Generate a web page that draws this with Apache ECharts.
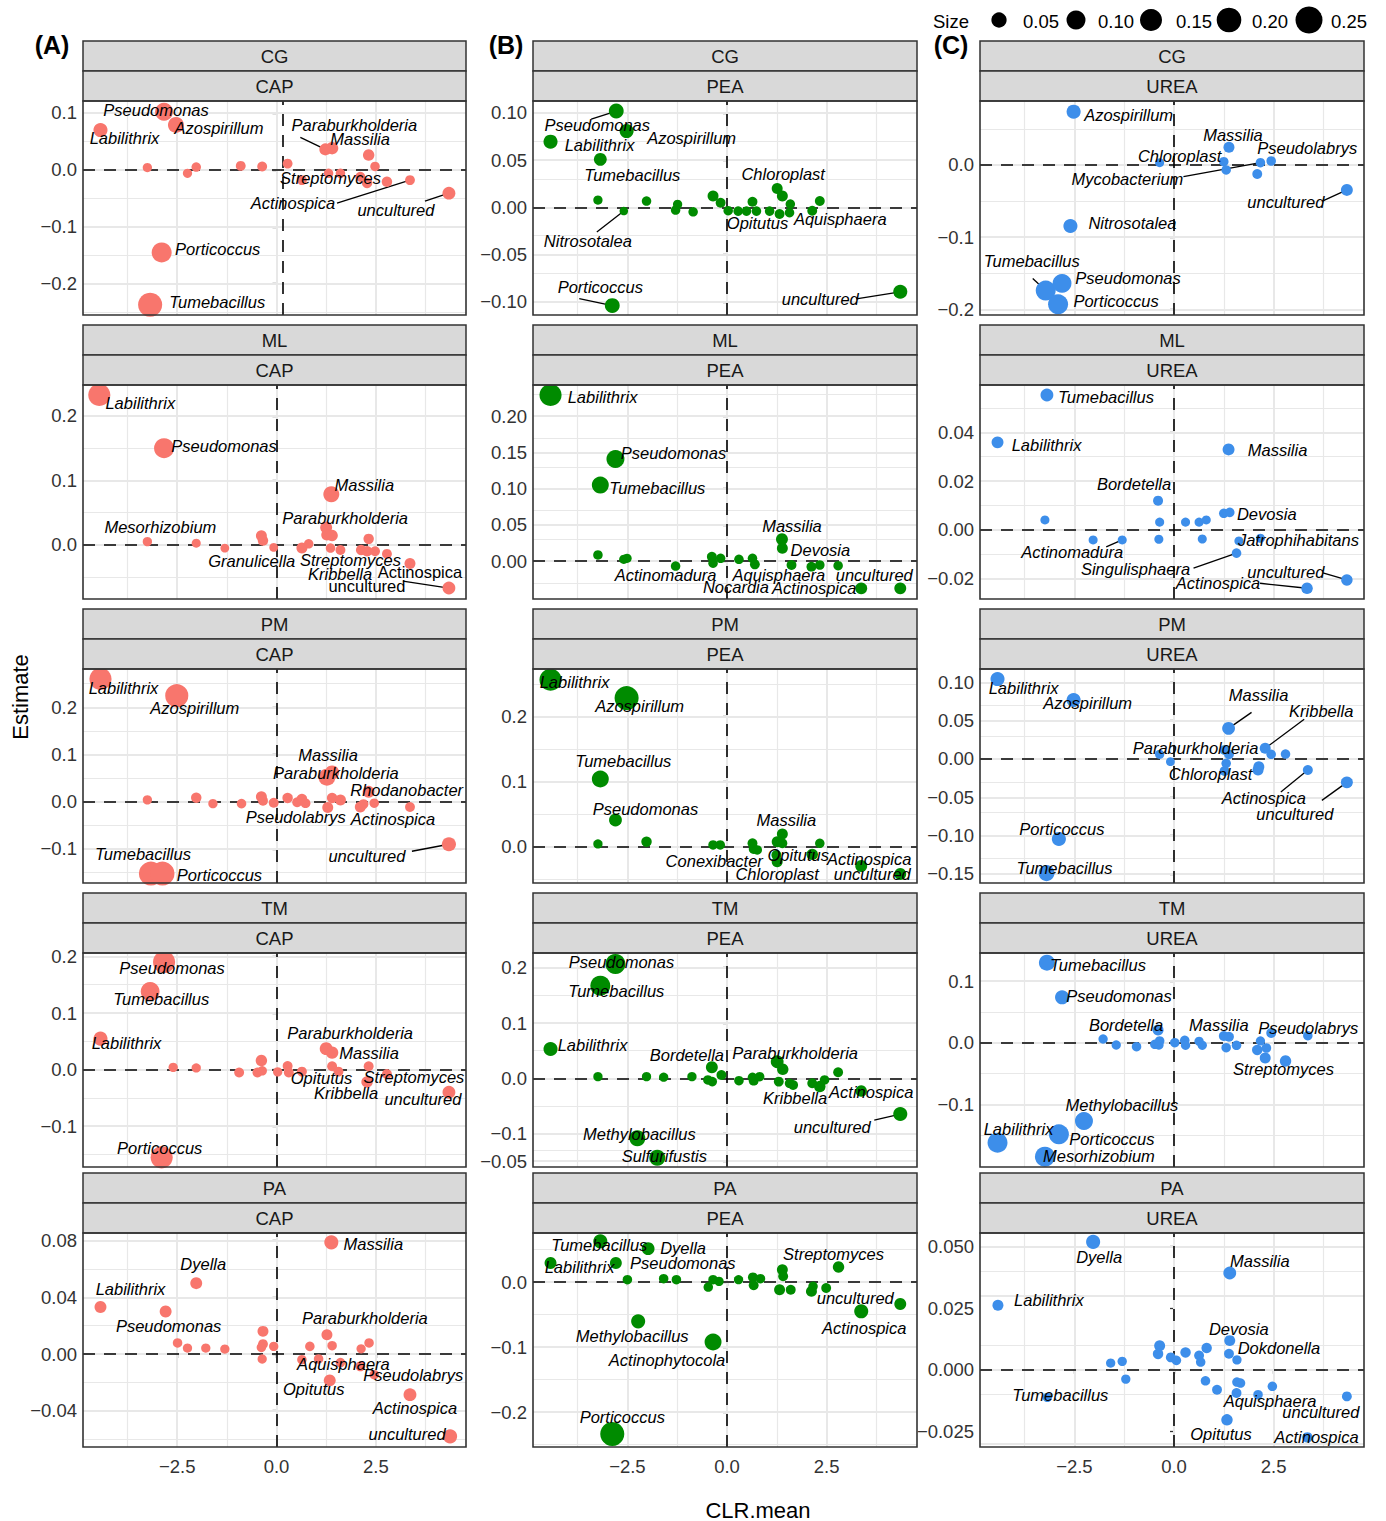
<!DOCTYPE html>
<html><head><meta charset="utf-8">
<script src="https://cdn.jsdelivr.net/npm/echarts@6/dist/echarts.min.js"></script>
<style>html,body{margin:0;padding:0;background:#fff;}#c{width:1386px;height:1521px;}</style>
</head><body><div id="c"></div>
<script>
// ---------------- DATA: [CLR.mean, Estimate, Size, label] ----------------
const capCG = [
 [-4.43,0.070,.06,'Labilithrix'],[-2.83,0.102,.116,'Pseudomonas'],[-2.53,0.079,.086,'Azospirillum'],
 [-2.89,-0.145,.15,'Porticoccus'],[-3.18,-0.237,.23,'Tumebacillus'],[-3.25,0.004,.01,''],[-2.24,-0.006,.01,''],
 [-2.02,0.005,.012,''],[-0.90,0.007,.015,''],[-0.36,0.006,.015,''],[0.28,0.011,.015,''],[0.64,-0.018,.015,''],
 [1.31,-0.006,.012,'Streptomyces'],[1.61,-0.006,.012,''],[2.11,-0.012,.015,''],[2.28,-0.023,.02,''],
 [2.32,0.026,.03,''],[2.48,0.006,.012,''],[2.78,-0.021,.02,''],[3.36,-0.018,.015,'Actinospica'],
 [1.23,0.036,.036,'Paraburkholderia'],[1.40,0.038,.04,'Massilia'],[4.34,-0.041,.045,'uncultured']];
const capML = [
 [-4.46,0.2326,.19,'Labilithrix'],[-2.83,0.150,.15,'Pseudomonas'],[1.38,0.0786,.086,'Massilia'],
 [-3.25,0.005,.01,'Mesorhizobium'],[-2.02,0.0026,.008,''],[-1.30,-0.005,.006,''],[-0.38,0.014,.025,''],
 [-0.34,0.0067,.02,''],[-0.07,-0.004,.006,'Granulicella'],[0.64,-0.005,.025,''],[0.81,0.0016,.012,''],
 [1.25,0.027,.035,'Paraburkholderia'],[1.27,0.0155,.03,''],[1.40,0.0145,.03,''],[1.36,-0.005,.012,''],
 [1.61,-0.008,.015,'Streptomyces'],[2.13,-0.008,.02,''],[2.32,0.0093,.02,''],[2.28,-0.010,.02,'Kribbella'],
 [2.48,-0.010,.015,''],[2.78,-0.014,.015,''],[3.36,-0.029,.025,'Actinospica'],[4.34,-0.067,.045,'uncultured']];
const capPM = [
 [-4.43,0.260,.19,'Labilithrix'],[-2.51,0.2246,.21,'Azospirillum'],[1.27,0.052,.1,'Paraburkholderia'],
 [1.40,0.062,.06,'Massilia'],[2.32,0.021,.035,'Rhodanobacter'],[-3.25,0.004,.01,''],[-2.02,0.0085,.02,''],
 [-1.60,-0.004,.01,''],[-0.88,-0.004,.012,''],[-0.38,0.0106,.025,''],[-0.34,0.002,.015,''],[-0.07,-0.002,.015,''],
 [0.28,0.008,.02,''],[0.52,-0.001,.015,''],[0.64,0.006,.02,''],[0.73,-0.003,.015,''],
 [1.29,-0.012,.025,'Pseudolabrys'],[1.40,0.008,.02,''],[1.61,0.0036,.025,''],[2.11,-0.011,.025,''],
 [2.19,-0.005,.015,''],[2.46,-0.003,.012,''],[3.36,-0.011,.015,'Actinospica'],[4.34,-0.090,.06,'uncultured'],
 [-3.16,-0.152,.23,'Tumebacillus'],[-2.87,-0.152,.23,'Porticoccus']];
const capTM = [
 [-2.83,0.190,.19,'Pseudomonas'],[-3.18,0.138,.13,'Tumebacillus'],[-4.43,0.0547,.06,'Labilithrix'],
 [-2.60,0.004,.01,''],[-2.02,0.003,.01,''],[-0.94,-0.005,.015,''],[-0.48,-0.005,.015,''],[-0.38,0.016,.03,''],
 [-0.36,-0.002,.012,''],[0.03,-0.004,.01,''],[0.28,0.0065,.015,''],[0.31,-0.005,.015,''],[0.64,-0.0035,.015,''],
 [1.25,0.037,.045,'Paraburkholderia'],[1.40,0.030,.04,'Massilia'],[1.40,0.006,.015,''],
 [1.56,-0.0035,.015,'Opitutus'],[2.32,0.006,.015,''],[2.28,-0.0217,.03,'Kribbella'],
 [2.78,-0.0076,.015,'Streptomyces'],[4.34,-0.040,.045,'uncultured'],[-2.89,-0.155,.19,'Porticoccus']];
const capPA = [
 [1.38,0.0788,.06,'Massilia'],[-2.02,0.050,.035,'Dyella'],[-4.43,0.0332,.035,'Labilithrix'],
 [-2.79,0.030,.035,'Pseudomonas'],[-2.49,0.0078,.012,''],[-2.24,0.0042,.01,''],[-1.78,0.0042,.01,''],
 [-1.30,0.0035,.01,''],[-0.34,0.016,.025,''],[-0.34,0.007,.015,''],[-0.38,0.0047,.012,''],[-0.07,0.0054,.01,''],
 [-0.36,-0.0035,.01,''],[0.84,0.0054,.012,''],[0.64,-0.004,.012,''],[1.27,0.0136,.025,'Paraburkholderia'],
 [1.40,0.0059,.012,''],[1.06,-0.0035,.012,''],[1.61,-0.006,.012,'Aquisphaera'],[1.34,-0.0186,.035,'Opitutus'],
 [2.13,0.0037,.01,''],[2.33,0.0078,.012,''],[2.11,-0.0087,.015,''],[2.46,-0.0146,.012,'Pseudolabrys'],
 [3.36,-0.0287,.045,'Actinospica'],[4.37,-0.0581,.06,'uncultured']];
const peaCG = [
 [-2.78,0.102,.07,'Pseudomonas'],[-2.52,0.0808,.06,'Azospirillum'],[-4.43,0.0695,.06,'Labilithrix'],
 [-3.18,0.0508,.045,'Tumebacillus'],[-3.24,0.0077,.01,''],[-2.59,-0.0039,.004,'Nitrosotalea'],
 [-2.02,0.0067,.012,''],[-1.29,-0.0029,.012,''],[-1.24,0.0032,.01,''],[-0.85,-0.0047,.012,''],
 [-0.35,0.012,.025,''],[-0.16,0.0049,.015,''],[0.03,-0.0036,.012,''],[0.28,-0.004,.012,''],
 [0.49,-0.004,.012,'Opitutus'],[0.64,0.0059,.015,''],[0.74,-0.004,.012,''],[1.07,-0.004,.012,''],
 [1.26,0.020,.025,'Chloroplast'],[1.39,0.012,.025,''],[1.32,-0.0071,.015,''],[1.59,0.0035,.012,''],
 [1.57,-0.0057,.012,''],[2.14,-0.0036,.015,'Aquisphaera'],[2.33,0.0067,.015,''],
 [4.35,-0.0894,.06,'uncultured'],[-2.88,-0.104,.07,'Porticoccus']];
const peaML = [
 [-4.43,0.229,.19,'Labilithrix'],[-2.80,0.1407,.116,'Pseudomonas'],[-3.18,0.1048,.1,'Tumebacillus'],
 [-3.24,0.0083,.012,''],[-2.59,0.0023,.01,''],[-2.51,0.0037,.01,''],[-1.29,-0.0069,.012,'Actinomadura'],
 [-0.38,0.006,.015,''],[-0.35,-0.003,.012,''],[-0.16,0.0037,.012,''],[0.30,0.0023,.012,'Nocardia'],
 [0.64,0.0037,.012,''],[0.70,-0.0046,.015,'Aquisphaera'],[1.38,0.030,.035,'Massilia'],
 [1.39,0.0175,.025,'Devosia'],[1.62,-0.0055,.015,''],[2.12,-0.0078,.015,''],[2.33,-0.0055,.012,''],
 [2.79,-0.0064,.012,''],[3.37,-0.0377,.035,'Actinospica'],[4.35,-0.0377,.035,'uncultured']];
const peaPM = [
 [-4.43,0.2565,.19,'Labilithrix'],[-2.52,0.2283,.23,'Azospirillum'],[-3.18,0.104,.1,'Tumebacillus'],
 [-2.80,0.041,.045,'Pseudomonas'],[-3.24,0.0042,.01,''],[-2.02,0.0077,.02,''],[-0.35,0.0026,.012,''],
 [-0.17,0.0026,.012,'Conexibacter'],[0.64,0.0052,.015,''],[0.67,-0.0035,.015,''],[0.76,-0.005,.012,''],
 [1.39,0.0195,.025,'Massilia'],[1.26,0.0077,.025,''],[1.39,0.0052,.015,''],[1.26,-0.023,.025,'Chloroplast'],
 [1.24,-0.0128,.015,''],[2.14,-0.0118,.03,'Opitutus'],[2.33,0.0052,.012,''],
 [3.37,-0.0297,.035,'Actinospica'],[4.35,-0.042,.035,'uncultured']];
const peaTM = [
 [-2.80,0.2067,.15,'Pseudomonas'],[-3.18,0.1675,.15,'Tumebacillus'],[-4.43,0.053,.06,'Labilithrix'],
 [-3.24,0.003,.01,''],[-2.02,0.003,.01,''],[-1.59,0.002,.01,''],[-0.88,0.003,.01,''],
 [-0.38,0.020,.035,'Bordetella'],[-0.48,-0.003,.012,''],[-0.37,-0.006,.012,''],[-0.14,0.006,.015,''],
 [0.30,-0.0043,.012,''],[0.64,0.0018,.012,''],[0.67,-0.0043,.015,''],[0.82,0.003,.012,''],
 [1.26,0.030,.045,'Paraburkholderia'],[1.40,0.0163,.03,''],[1.30,-0.006,.015,''],[1.57,-0.009,.012,''],
 [1.66,-0.012,.015,'Kribbella'],[2.14,-0.009,.015,''],[2.33,-0.015,.03,''],[2.45,-0.003,.012,''],
 [2.79,0.011,.015,''],[3.37,-0.023,.03,'Actinospica'],[4.35,-0.0646,.06,'uncultured'],
 [-2.25,-0.1085,.086,'Methylobacillus'],[-1.75,-0.1436,.086,'Sulfurifustis']];
const peaPA = [
 [-3.18,0.0626,.06,'Tumebacillus'],[-1.98,0.0513,.045,'Dyella'],[-4.43,0.0292,.035,'Labilithrix'],
 [-2.79,0.0292,.035,'Pseudomonas'],[-2.50,0.0036,.012,''],[-1.59,0.0051,.012,''],[-1.27,0.0036,.012,''],
 [-0.47,-0.0077,.012,''],[-0.35,0.0036,.012,''],[-0.20,0.001,.01,''],[0.29,0.0036,.01,''],
 [0.65,0.0072,.015,''],[0.67,-0.0051,.015,''],[0.84,0.0051,.012,''],[1.39,0.019,.025,''],
 [1.41,0.0088,.015,''],[1.32,-0.0118,.025,''],[1.60,-0.0118,.015,''],[2.12,-0.0144,.025,''],
 [2.16,-0.0067,.012,''],[2.49,-0.0092,.015,''],[2.80,0.0231,.03,'Streptomyces'],
 [3.37,-0.0451,.06,'Actinospica'],[4.35,-0.0338,.035,'uncultured'],[-2.23,-0.0605,.06,'Methylobacillus'],
 [-0.35,-0.0923,.1,'Actinophytocola'],[-2.88,-0.2338,.23,'Porticoccus']];
const ureaCG = [
 [-2.52,0.0738,.06,'Azospirillum'],[1.38,0.0245,.025,'Massilia'],[-0.36,0.0032,.008,'Chloroplast'],
 [1.25,0.0046,.012,''],[1.31,-0.0069,.012,''],[2.17,0.0032,.012,'Mycobacterium'],
 [2.44,0.0055,.012,'Pseudolabrys'],[2.09,-0.0125,.015,''],[4.34,-0.0346,.035,'uncultured'],
 [-2.60,-0.0845,.06,'Nitrosotalea'],[-3.22,-0.174,.15,'Tumebacillus'],[-2.81,-0.1639,.13,'Pseudomonas'],
 [-2.91,-0.193,.15,'Porticoccus']];
const ureaML = [
 [-3.19,0.0553,.045,'Tumebacillus'],[-4.43,0.0359,.035,'Labilithrix'],[1.37,0.033,.035,'Massilia'],
 [-0.40,0.012,.016,'Bordetella'],[-3.24,0.0041,.008,''],[-0.36,0.0032,.008,''],[0.29,0.0032,.008,''],
 [0.63,0.0032,.008,''],[0.81,0.0041,.008,''],[1.25,0.0068,.012,''],[1.40,0.0072,.012,'Devosia'],
 [-2.03,-0.0041,.008,''],[-1.30,-0.0041,.008,'Actinomadura'],[-0.38,-0.0038,.008,''],[0.71,-0.0037,.008,''],
 [1.63,-0.0045,.008,''],[2.17,-0.0034,.008,'Jatrophihabitans'],[1.57,-0.0095,.012,'Singulisphaera'],
 [3.34,-0.0239,.03,'Actinospica'],[4.34,-0.0205,.03,'uncultured']];
const ureaPM = [
 [-4.43,0.1044,.06,'Labilithrix'],[-2.52,0.077,.06,'Azospirillum'],[1.37,0.040,.045,'Massilia'],
 [2.29,0.014,.025,'Kribbella'],[-0.36,0.0061,.01,''],[-0.09,-0.0035,.006,''],
 [1.27,0.0117,.015,'Paraburkholderia'],[1.38,0.0061,.015,''],[1.31,-0.0056,.012,''],[2.44,0.0061,.012,''],
 [2.80,0.0065,.012,''],[1.27,-0.0157,.015,'Chloroplast'],[2.13,-0.010,.025,''],[2.11,-0.0144,.025,''],
 [3.36,-0.0144,.016,'Actinospica'],[4.34,-0.0305,.035,'uncultured'],[-2.89,-0.1044,.06,'Porticoccus'],
 [-3.20,-0.149,.086,'Tumebacillus']];
const ureaTM = [
 [-3.19,0.1297,.086,'Tumebacillus'],[-2.81,0.0736,.06,'Pseudomonas'],[-0.40,0.0206,.025,'Bordetella'],
 [-1.78,0.006,.01,''],[-1.45,-0.0037,.01,''],[-0.94,-0.0065,.012,''],[-0.48,-0.0026,.012,''],
 [-0.38,-0.0037,.012,''],[-0.36,0.0028,.012,''],[0.02,0.0,.012,''],[0.27,0.0039,.012,''],
 [0.29,-0.0042,.01,''],[0.63,0.0023,.01,''],[0.71,-0.0042,.01,''],[1.25,0.0109,.015,'Massilia'],
 [1.38,0.0097,.015,''],[1.31,-0.0081,.012,''],[1.57,-0.0042,.012,''],[2.17,0.0028,.01,''],
 [2.09,-0.0118,.02,''],[2.32,-0.0086,.012,''],[2.29,-0.0248,.025,''],[2.44,0.0157,.015,'Pseudolabrys'],
 [3.36,0.0113,.012,''],[2.80,-0.0297,.03,'Streptomyces'],[-2.26,-0.127,.116,'Methylobacillus'],
 [-2.89,-0.1485,.15,'Porticoccus'],[-4.43,-0.162,.15,'Labilithrix'],[-3.24,-0.1848,.15,'Mesorhizobium']];
const ureaPA = [
 [-2.03,0.0518,.06,'Dyella'],[1.40,0.0392,.045,'Massilia'],[-4.42,0.0261,.025,'Labilithrix'],
 [1.40,0.0118,.025,'Devosia'],[-0.36,0.0097,.025,''],[-0.40,0.0064,.02,''],[0.29,0.0070,.02,''],
 [0.82,0.0088,.02,''],[0.63,0.0058,.015,''],[0.67,0.0031,.012,''],[-0.08,0.005,.015,''],[0.06,0.0038,.012,''],
 [-1.59,0.0027,.01,''],[-1.30,0.0034,.01,''],[-1.21,-0.0038,.01,''],[1.38,0.0065,.015,''],
 [1.58,0.004,.01,'Dokdonella'],[0.79,-0.0045,.012,''],[1.08,-0.0081,.015,''],[1.58,-0.005,.012,''],
 [1.67,-0.0054,.012,''],[1.57,-0.0094,.015,''],[2.11,-0.0101,.012,'Aquisphaera'],[2.47,-0.0067,.012,''],
 [4.34,-0.0108,.015,'uncultured'],[-3.18,-0.0112,.01,'Tumebacillus'],[1.33,-0.0203,.03,'Opitutus'],
 [3.35,-0.0274,.02,'Actinospica']];

// ---------------- axes / facets ----------------
const sites = ['CG','ML','PM','TM','PA'];
const treatments = ['CAP','PEA','UREA'];
const panelTags = ['(A)','(B)','(C)'];
const xMajor = [-2.5, 0, 2.5];
const xMajorLabels = ['\u22122.5','0.0','2.5'];
const xMinor = [-3.75, -1.25, 1.25, 3.75];
const xRange = [-4.87, 4.77];
const yRange = {
 capCG:[-0.255,0.121], capML:[-0.084,0.248], capPM:[-0.172,0.281], capTM:[-0.172,0.206], capPA:[-0.0656,0.0854],
 peaCG:[-0.114,0.1126], peaML:[-0.0524,0.2428], peaPM:[-0.0558,0.273], peaTM:[-0.1604,0.2266], peaPA:[-0.2538,0.0754],
 ureaCG:[-0.2078,0.0886], ureaML:[-0.0283,0.0594], ureaPM:[-0.1619,0.1175], ureaTM:[-0.2015,0.1454], ureaPA:[-0.0313,0.0554]};
const yMajor = {
 capCG:[-0.2,-0.1,0,0.1], capML:[0,0.1,0.2], capPM:[-0.1,0,0.1,0.2], capTM:[-0.1,0,0.1,0.2], capPA:[-0.04,0,0.04,0.08],
 peaCG:[-0.1,-0.05,0,0.05,0.1], peaML:[0,0.05,0.1,0.15,0.2], peaPM:[0,0.1,0.2], peaTM:[-0.15,-0.1,0,0.1,0.2], peaPA:[-0.2,-0.1,0],
 ureaCG:[-0.2,-0.1,0], ureaML:[-0.02,0,0.02,0.04], ureaPM:[-0.15,-0.1,-0.05,0,0.05,0.1], ureaTM:[-0.1,0,0.1], ureaPA:[-0.025,0,0.025,0.05]};
const yLabels = {
 capCG:['\u22120.2','\u22120.1','0.0','0.1'], capML:['0.0','0.1','0.2'], capPM:['\u22120.1','0.0','0.1','0.2'],
 capTM:['\u22120.1','0.0','0.1','0.2'], capPA:['\u22120.04','0.00','0.04','0.08'],
 peaCG:['\u22120.10','\u22120.05','0.00','0.05','0.10'], peaML:['0.00','0.05','0.10','0.15','0.20'], peaPM:['0.0','0.1','0.2'],
 peaTM:['\u22120.05','\u22120.1','0.0','0.1','0.2'], peaPA:['\u22120.2','\u22120.1','0.0'],
 ureaCG:['\u22120.2','\u22120.1','0.0'], ureaML:['\u22120.02','0.00','0.02','0.04'],
 ureaPM:['\u22120.15','\u22120.10','\u22120.05','0.00','0.05','0.10'], ureaTM:['\u22120.1','0.0','0.1'],
 ureaPA:['\u22120.025','0.000','0.025','0.050']};
const yMinor = {
 capCG:[-0.25,-0.15,-0.05,0.05], capML:[-0.05,0.05,0.15], capPM:[-0.15,-0.05,0.05,0.15,0.25], capTM:[-0.15,-0.05,0.05,0.15],
 capPA:[-0.06,-0.02,0.02,0.06], peaCG:[-0.075,-0.025,0.025,0.075], peaML:[-0.025,0.025,0.075,0.125,0.175,0.225],
 peaPM:[-0.05,0.05,0.15,0.25], peaTM:[-0.125,-0.05,0.05,0.15], peaPA:[-0.25,-0.15,-0.05,0.05],
 ureaCG:[-0.15,-0.05,0.05], ureaML:[-0.01,0.01,0.03,0.05], ureaPM:[-0.125,-0.075,-0.025,0.025,0.075],
 ureaTM:[-0.15,-0.05,0.05], ureaPA:[-0.0125,0.0125,0.0375]};
const vlineX = {capCG:0.17};
const sizeLegend = [0.05,0.10,0.15,0.20,0.25];
const sizeLegendLabels = ['0.05','0.10','0.15','0.20','0.25'];

// ---------------- label placement (pixel offsets of text centre from point) ----------------
const labelPos = {
 capCG:{Labilithrix:[24,8],Pseudomonas:[-8,-2],Azospirillum:[43,3],Paraburkholderia:[29,-24],Massilia:[28,-9],Streptomyces:[2,5],Actinospica:[-117,23],uncultured:[-53,17],Porticoccus:[56,-3],Tumebacillus:[67,-3]},
 capML:{Labilithrix:[41,8],Pseudomonas:[60,-2],Massilia:[33,-9],Mesorhizobium:[13,-15],Paraburkholderia:[19,-9],Granulicella:[-22,14],Streptomyces:[10,10],Kribbella:[-27,23],Actinospica:[10,8],uncultured:[-82,-2]},
 capPM:{Labilithrix:[23,9],Azospirillum:[18,12],Massilia:[-4,-17],Paraburkholderia:[9,-4],Rhodanobacter:[38,-2],Pseudolabrys:[-32,10],Actinospica:[-17,12],uncultured:[-82,12],Tumebacillus:[-8,-20],Porticoccus:[57,1]},
 capTM:{Pseudomonas:[8,6],Tumebacillus:[11,8],Labilithrix:[26,4],Paraburkholderia:[24,-16],Massilia:[37,0],Opitutus:[-17,6],Kribbella:[-21,11],Streptomyces:[27,3],uncultured:[-26,7],Porticoccus:[-2,-9]},
 capPA:{Massilia:[42,2],Dyella:[7,-19],Labilithrix:[30,-18],Pseudomonas:[3,14],Paraburkholderia:[38,-17],Aquisphaera:[3,1],Opitutus:[-16,9],Pseudolabrys:[39,0],Actinospica:[5,13],uncultured:[-43,-2]},
 peaCG:{Pseudomonas:[-19,14],Labilithrix:[49,3],Azospirillum:[65,7],Tumebacillus:[32,16],Chloroplast:[6,-14],Nitrosotalea:[-36,30],Opitutus:[11,12],Aquisphaera:[28,8],Porticoccus:[-12,-19],uncultured:[-80,7]},
 peaML:{Labilithrix:[52,2],Pseudomonas:[58,-6],Tumebacillus:[57,3],Massilia:[10,-13],Devosia:[38,2],Actinomadura:[-10,9],Aquisphaera:[24,11],uncultured:[-26,-13],Nocardia:[-3,28],Actinospica:[-47,0]},
 peaPM:{Labilithrix:[24,2],Azospirillum:[13,8],Tumebacillus:[23,-18],Pseudomonas:[30,-11],Massilia:[4,-14],Conexibacter:[-6,16],Opitutus:[-14,1],Chloroplast:[0,12],Actinospica:[8,-7],uncultured:[-28,0]},
 peaTM:{Pseudomonas:[6,-2],Tumebacillus:[16,5],Labilithrix:[42,-4],Bordetella:[-25,-12],Paraburkholderia:[18,-9],Kribbella:[2,13],Actinospica:[10,1],uncultured:[-68,13],Methylobacillus:[2,-4],Sulfurifustis:[7,-2]},
 peaPA:{Tumebacillus:[-1,4],Dyella:[35,-1],Labilithrix:[29,4],Pseudomonas:[67,0],Streptomyces:[-5,-13],uncultured:[-45,-6],Actinospica:[3,17],Methylobacillus:[-6,15],Actinophytocola:[-46,18],Porticoccus:[10,-17]},
 ureaCG:{Azospirillum:[55,3],Massilia:[4,-12],Pseudolabrys:[36,-13],Chloroplast:[20,-7],Mycobacterium:[-133,16],uncultured:[-61,12],Nitrosotalea:[62,-3],Tumebacillus:[-14,-30],Pseudomonas:[66,-5],Porticoccus:[58,-3]},
 ureaML:{Tumebacillus:[59,2],Labilithrix:[49,3],Massilia:[49,1],Bordetella:[-24,-17],Devosia:[37,2],Jatrophihabitans:[38,2],Actinomadura:[-50,12],Singulisphaera:[-101,16],Actinospica:[-89,-5],uncultured:[-61,-8]},
 ureaPM:{Labilithrix:[26,9],Azospirillum:[14,3],Massilia:[30,-33],Kribbella:[56,-37],Paraburkholderia:[-29,-2],Chloroplast:[-14,3],Actinospica:[-44,28],uncultured:[-52,32],Porticoccus:[3,-10],Tumebacillus:[18,-5]},
 ureaTM:{Tumebacillus:[51,2],Pseudomonas:[57,-1],Bordetella:[-32,-5],Massilia:[-5,-11],Pseudolabrys:[37,-5],Streptomyces:[-2,8],Methylobacillus:[38,-16],Labilithrix:[21,-14],Porticoccus:[53,5],Mesorhizobium:[54,-1]},
 ureaPA:{Dyella:[6,15],Massilia:[30,-12],Labilithrix:[51,-5],Devosia:[9,-12],Dokdonella:[42,-12],Tumebacillus:[13,-2],Aquisphaera:[12,6],uncultured:[-26,16],Opitutus:[-6,14],Actinospica:[9,0]}
};
const leaders = {
 capCG:{Paraburkholderia:[-25,-12],Actinospica:[-73,23],uncultured:[-24,8]},
 capML:{uncultured:[-46,-7]},
 capPM:{uncultured:[-37,7]},
 peaCG:{Pseudomonas:[-25,8],Nitrosotalea:[-27,21],Porticoccus:[-33,-7],uncultured:[-44,7]},
 peaTM:{uncultured:[-26,6]},
 ureaCG:{Mycobacterium:[-77,14],uncultured:[-24,11],Tumebacillus:[-13,-12]},
 ureaML:{Actinomadura:[-16,7],Singulisphaera:[-43,15],Actinospica:[-47,-5],uncultured:[-24,-7]},
 ureaPM:{Massilia:[23,-16],Kribbella:[39,-29],Actinospica:[-27,22],uncultured:[-25,18]}
};
const uprightLabels = {capML:['Actinospica','uncultured']};

// ---------------- layout / style ----------------
const FONT = '"Liberation Sans", Arial, Helvetica, sans-serif';
const colLeft = [83, 533, 980], colWidth = [383, 384, 384];
const rowTop = [101, 385, 669, 953, 1233], plotH = 214, stripH = 30;
const colors = {CAP:'#F8766D', PEA:'#008B00', UREA:'#3D8EEA'};
function sz(v){ return 2*Math.sqrt(16 + 560*v); }

const panelData = {capCG,capML,capPM,capTM,capPA,peaCG,peaML,peaPM,peaTM,peaPA,ureaCG,ureaML,ureaPM,ureaTM,ureaPA};
const keys = Object.keys(panelData);

const grids=[], xAxes=[], yAxes=[], series=[];
keys.forEach((key,i)=>{
  const col = Math.floor(i/5), row = i%5, treat = treatments[col];
  const left = colLeft[col], top = rowTop[row], w = colWidth[col];
  const bottom = row===4;
  grids.push({left:left, top:top, width:w, height:plotH, containLabel:false, outerBoundsMode:'none'});
  xAxes.push({gridIndex:i, type:'value', min:xRange[0], max:xRange[1],
    axisLine:{show:false}, splitLine:{show:false},
    axisTick:{show:bottom, customValues:xMajor, length:4, lineStyle:{color:'#333', width:1.3}},
    axisLabel:{show:bottom, customValues:xMajor, margin:10, fontSize:18.5, color:'#333', fontFamily:FONT,
      formatter:(v)=>{const k=xMajor.findIndex(m=>Math.abs(m-v)<1e-9); return k>=0?xMajorLabels[k]:'';}}});
  const ym = yMajor[key], yl = yLabels[key];
  yAxes.push({gridIndex:i, type:'value', min:yRange[key][0], max:yRange[key][1],
    axisLine:{show:false}, splitLine:{show:false},
    axisTick:{show:true, customValues:ym, length:4, lineStyle:{color:'#333', width:1.3}},
    axisLabel:{show:true, customValues:ym, margin:6, fontSize:18.5, color:'#333', fontFamily:FONT,
      formatter:(v)=>{const k=ym.findIndex(m=>Math.abs(m-v)<1e-9); return k>=0?yl[k]:'';}}});
  // background grid lines
  const gl = [];
  xMinor.forEach(v=>gl.push({xAxis:v, lineStyle:{width:1.2}}));
  yMinor[key].forEach(v=>{ if(v>yRange[key][0] && v<yRange[key][1]) gl.push({yAxis:v, lineStyle:{width:1.2}}); });
  xMajor.forEach(v=>gl.push({xAxis:v, lineStyle:{width:2}}));
  ym.forEach(v=>gl.push({yAxis:v, lineStyle:{width:2}}));
  series.push({type:'scatter', xAxisIndex:i, yAxisIndex:i, data:[], z:1, silent:true,
    markLine:{silent:true, z:1, symbol:['none','none'], label:{show:false}, emphasis:{disabled:true}, animation:false,
      lineStyle:{color:'#E8E8E8', type:'solid'}, data:gl}});
  // reference lines
  series.push({type:'scatter', xAxisIndex:i, yAxisIndex:i, data:[], z:3, silent:true,
    markLine:{silent:true, z:3, symbol:['none','none'], label:{show:false}, emphasis:{disabled:true}, animation:false,
      lineStyle:{color:'#000', type:[12,9], width:1.6},
      data:[{xAxis: vlineX[key]!==undefined ? vlineX[key] : 0},{yAxis:0}]}});
  // points
  const up = uprightLabels[key] || [];
  const lp = labelPos[key] || {};
  series.push({type:'scatter', xAxisIndex:i, yAxisIndex:i, z:5, silent:true, clip:true,
    itemStyle:{color:colors[treat], opacity:1},
    symbolSize:(val)=>sz(val[2]),
    emphasis:{disabled:true},
    label:{show:false, position:'inside', color:'#000', fontSize:16.5, fontStyle:'italic', fontFamily:FONT,
      align:'center', verticalAlign:'middle', textBorderWidth:0, formatter:'{b}'},
    data: panelData[key].map(d=>{
      const item = {value:[d[0],d[1],d[2]], name:d[3]};
      if (d[3] && lp[d[3]]) {
        item.label = {show:true, offset:lp[d[3]]};
        if (up.indexOf(d[3])>=0) item.label.fontStyle = 'normal';
      }
      return item;
    })});
});

const chart = echarts.init(document.getElementById('c'), null, {renderer:'svg', width:1386, height:1521});
chart.setOption({animation:false, backgroundColor:'#fff', grid:grids, xAxis:xAxes, yAxis:yAxes, series:series});

// ---------------- decorations ----------------
const els = [];
keys.forEach((key,i)=>{
  const col = Math.floor(i/5), row = i%5;
  const left = colLeft[col], top = rowTop[row], w = colWidth[col];
  [[sites[row], top-2*stripH],[treatments[col], top-stripH]].forEach(s=>{
    els.push({type:'rect', z:6, silent:true, shape:{x:left, y:s[1], width:w, height:stripH},
      style:{fill:'#D9D9D9', stroke:'#333', lineWidth:1.5}});
    els.push({type:'text', z:7, silent:true, x:left+w/2, y:s[1]+stripH/2,
      style:{text:s[0], fill:'#1A1A1A', fontSize:18.5, fontFamily:FONT, align:'center', verticalAlign:'middle',
             textAlign:'center', textVerticalAlign:'middle'}});
  });
  els.push({type:'rect', z:6, silent:true, shape:{x:left, y:top, width:w, height:plotH},
    style:{fill:'none', stroke:'#333', lineWidth:1.6}});
  const L = leaders[key] || {};
  panelData[key].forEach(d=>{
    if (d[3] && L[d[3]]) {
      const p = chart.convertToPixel({xAxisIndex:i, yAxisIndex:i}, [d[0], d[1]]);
      const e = L[d[3]];
      els.push({type:'line', z:4, silent:true, shape:{x1:p[0], y1:p[1], x2:p[0]+e[0], y2:p[1]+e[1]},
        style:{stroke:'#000', lineWidth:1.3}});
    }
  });
});
[52, 506, 951].forEach((x,k)=>{
  els.push({type:'text', z:7, silent:true, x:x, y:45,
    style:{text:panelTags[k], fill:'#000', fontSize:25, fontWeight:'bold', fontFamily:FONT, align:'center', verticalAlign:'middle', textAlign:'center', textVerticalAlign:'middle'}});
});
els.push({type:'text', z:7, silent:true, x:20, y:697, rotation:Math.PI/2,
  style:{text:'Estimate', fill:'#000', fontSize:22, fontFamily:FONT, align:'center', verticalAlign:'middle', textAlign:'center', textVerticalAlign:'middle'}});
els.push({type:'text', z:7, silent:true, x:758, y:1510,
  style:{text:'CLR.mean', fill:'#000', fontSize:22, fontFamily:FONT, align:'center', verticalAlign:'middle', textAlign:'center', textVerticalAlign:'middle'}});
els.push({type:'text', z:7, silent:true, x:933, y:21,
  style:{text:'Size', fill:'#000', fontSize:18.5, fontFamily:FONT, align:'left', verticalAlign:'middle', textAlign:'left', textVerticalAlign:'middle'}});
const legDotX = [999, 1076, 1151, 1229, 1309], legTextX = [1023, 1098, 1176, 1252, 1331];
sizeLegend.forEach((v,k)=>{
  els.push({type:'circle', z:7, silent:true, shape:{cx:legDotX[k], cy:20, r:sz(v)/2+1}, style:{fill:'#000'}});
  els.push({type:'text', z:7, silent:true, x:legTextX[k], y:21,
    style:{text:sizeLegendLabels[k], fill:'#000', fontSize:18.5, fontFamily:FONT, align:'left', verticalAlign:'middle', textAlign:'left', textVerticalAlign:'middle'}});
});
chart.setOption({graphic:{elements:els}});
</script></body></html>
